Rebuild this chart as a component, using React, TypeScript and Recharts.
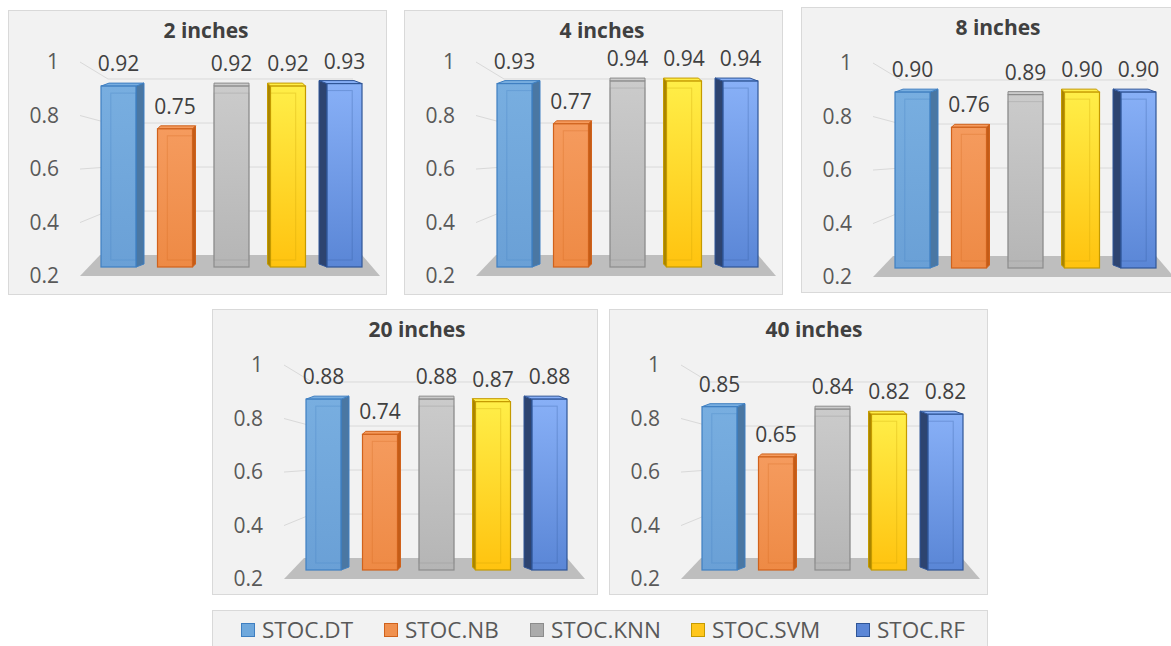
import React from "react";
import { BarChart, Bar, XAxis, YAxis, CartesianGrid, LabelList } from "recharts";

const PANEL_TITLES = ["2 inches", "4 inches", "8 inches", "20 inches", "40 inches"];

const STOC_DT = [0.92, 0.93, 0.9, 0.88, 0.85];
const STOC_NB = [0.75, 0.77, 0.76, 0.74, 0.65];
const STOC_KNN = [0.92, 0.94, 0.89, 0.88, 0.84];
const STOC_SVM = [0.92, 0.94, 0.9, 0.87, 0.82];
const STOC_RF = [0.93, 0.94, 0.9, 0.88, 0.82];

const SERIES_NAMES = ["STOC.DT", "STOC.NB", "STOC.KNN", "STOC.SVM", "STOC.RF"];
const Y_TICKS = [0.2, 0.4, 0.6, 0.8, 1];

const FONT = "'Open Sans', 'Noto Sans', sans-serif";

// look of each series (front face, edge, side face, side depth)
const STYLES = [
  { id: "dt", top: "#78AEE0", bottom: "#6AA0D6", stroke: "#3F7FC1", side: "#4A77A3", depth: 8, legend: "#6FA8DC" },
  { id: "nb", top: "#F59B5E", bottom: "#EE8A45", stroke: "#D0621C", side: "#C35C18", depth: 3, legend: "#F0914F" },
  { id: "knn", top: "#CBCBCB", bottom: "#B5B5B5", stroke: "#8C8C8C", side: "#999999", depth: 0, legend: "#ABABAB" },
  { id: "svm", top: "#FFEE48", bottom: "#FFC30F", stroke: "#C49A00", side: "#A98400", depth: -3, legend: "#FFC61A" },
  { id: "rf", top: "#88B0F7", bottom: "#5A86D6", stroke: "#2F5597", side: "#2D4470", depth: -8, legend: "#5B86D6" },
];

// panel boxes on the page
const LAYOUT = [
  { left: 8, top: 10, width: 379, height: 285, plotTop: 56, plotRight: 375, titleX: 198 },
  { left: 404, top: 10, width: 379, height: 285, plotTop: 56, plotRight: 375, titleX: 198 },
  { left: 801, top: 7, width: 379, height: 286, plotTop: 60, plotRight: 376, titleX: 197 },
  { left: 212, top: 309, width: 386, height: 286, plotTop: 60, plotRight: 376, titleX: 205 },
  { left: 609, top: 309, width: 379, height: 286, plotTop: 60, plotRight: 374, titleX: 205 },
];
const PLOT_H = 201;
const LEGEND_X = [241, 384, 530, 691, 856];

const renderBar = (st: any) => (p: any) => {
  const { x, y, width: w, height: h } = p;
  const d = st.depth;
  const r = 3;
  const sx = d > 0 ? x + w : x;
  const inner = d > 0 ? { x: x + w * 0.28, w: w * 0.72 } : d < 0 ? { x: x, w: w * 0.72 } : { x: x, w: w };
  return (
    <g>
      {d !== 0 && (
        <polygon
          points={`${sx},${y} ${sx + d},${y - r} ${sx + d},${y + h - r} ${sx},${y + h}`}
          fill={st.side}
          stroke={st.stroke}
          strokeWidth={1}
        />
      )}
      <polygon
        points={`${x},${y} ${x + d},${y - r} ${x + w + d},${y - r} ${x + w},${y}`}
        fill={st.top}
        stroke={st.stroke}
        strokeWidth={1}
      />
      <rect x={x} y={y} width={w} height={h} fill={`url(#grad-${st.id})`} stroke={st.stroke} strokeWidth={1.2} />
      <rect
        x={inner.x}
        y={y + 7}
        width={inner.w}
        height={Math.max(h - 14, 0)}
        fill="none"
        stroke={st.stroke}
        strokeOpacity={0.3}
        strokeWidth={1}
      />
    </g>
  );
};

const gridLine = (top: number, bottom: number) => (p: any) => {
  const { x1, x2, y1 } = p;
  const ph = bottom - top;
  const frac = (y1 - top) / ph;
  const yLab = top + frac * ph * 1.065 - 4;
  const yBack = top + frac * ph * 0.876 + 13;
  if (Math.abs(y1 - bottom) < 1) {
    return (
      <polygon
        key={"floor"}
        points={`${x1 + 20},${yBack} ${x2 - 21},${yBack} ${x2 - 3},${yLab} ${x1},${yLab}`}
        fill="#BEBEBE"
      />
    );
  }
  return (
    <path
      key={"g" + y1}
      d={`M${x1},${yLab}L${x1 + 28},${yBack}L${x2 - 30},${yBack}`}
      stroke="#D9D9D9"
      strokeWidth={1}
      fill="none"
    />
  );
};

const tickLabel = (top: number, bottom: number) => (p: any) => {
  const { x, y, payload } = p;
  const ph = bottom - top;
  const frac = (y - top) / ph;
  const yy = top + frac * ph * 1.065 - 4;
  return (
    <text x={x} y={yy} dy="0.35em" textAnchor="end" fill="#595959" fontSize={21} fontFamily={FONT}>
      {String(payload.value)}
    </text>
  );
};

function Panel({ index }: { index: number }) {
  const box = LAYOUT[index];
  const top = box.plotTop;
  const bottom = box.plotTop + PLOT_H;
  const data = [
    {
      panel: PANEL_TITLES[index],
      dt: STOC_DT[index],
      nb: STOC_NB[index],
      knn: STOC_KNN[index],
      svm: STOC_SVM[index],
      rf: STOC_RF[index],
    },
  ];
  return (
    <div
      style={{
        position: "absolute",
        left: box.left,
        top: box.top,
        width: box.width,
        height: box.height,
        boxSizing: "border-box",
        border: "1px solid #D9D9D9",
        background: "#F2F2F2",
      }}
    >
      <div style={{ position: "absolute", left: -1, top: -1 }}>
        <BarChart
          width={box.width}
          height={box.height}
          data={data}
          barGap={21.5}
          margin={{ top: top, right: box.width - box.plotRight, left: 0, bottom: box.height - bottom }}
        >
          <CartesianGrid vertical={false} horizontal={gridLine(top, bottom)} />
          <XAxis dataKey="panel" hide />
          <YAxis
            width={72}
            domain={[0.2, 1]}
            ticks={Y_TICKS}
            axisLine={false}
            tickLine={false}
            tickMargin={15}
            tick={tickLabel(top, bottom)}
          />
          {STYLES.map((st, i) => (
            <Bar
              key={st.id}
              dataKey={st.id}
              name={SERIES_NAMES[i]}
              barSize={35}
              isAnimationActive={false}
              shape={renderBar(st)}
            >
              <LabelList
                dataKey={st.id}
                position="top"
                offset={15}
                fill="#404040"
                fontSize={21}
                fontFamily={FONT}
                formatter={(v: any) => Number(v).toFixed(2)}
              />
            </Bar>
          ))}
        </BarChart>
      </div>
      <div
        style={{
          position: "absolute",
          left: -1,
          top: 9,
          width: box.titleX * 2,
          textAlign: "center",
          fontFamily: FONT,
          fontWeight: 700,
          fontSize: 21,
          lineHeight: "21px",
          color: "#404040",
        }}
      >
        {PANEL_TITLES[index]}
      </div>
    </div>
  );
}

export default function App() {
  return (
    <div
      style={{
        position: "absolute",
        left: 0,
        top: 0,
        width: 1171,
        height: 646,
        overflow: "hidden",
        background: "#FFFFFF",
        fontFamily: FONT,
      }}
    >
      <svg width={0} height={0} style={{ position: "absolute" }}>
        <defs>
          {STYLES.map((st) => (
            <linearGradient key={st.id} id={`grad-${st.id}`} x1="0" y1="0" x2="0" y2="1">
              <stop offset="0%" stopColor={st.top} />
              <stop offset="100%" stopColor={st.bottom} />
            </linearGradient>
          ))}
        </defs>
      </svg>
      {PANEL_TITLES.map((t, i) => (
        <Panel key={t} index={i} />
      ))}
      <div
        style={{
          position: "absolute",
          left: 212,
          top: 610,
          width: 776,
          height: 36,
          boxSizing: "border-box",
          borderTop: "1px solid #D9D9D9",
          borderLeft: "1px solid #D9D9D9",
          borderRight: "1px solid #D9D9D9",
          background: "#F2F2F2",
        }}
      >
        {SERIES_NAMES.map((name, i) => (
          <div
            key={name}
            style={{
              position: "absolute",
              left: LEGEND_X[i] - 213,
              top: 9,
              height: 20,
              display: "flex",
              alignItems: "center",
              whiteSpace: "nowrap",
            }}
          >
            <span
              style={{
                display: "inline-block",
                width: 14,
                height: 14,
                boxSizing: "border-box",
                background: STYLES[i].legend,
                border: `1.5px solid ${STYLES[i].stroke}`,
                marginRight: 7,
              }}
            />
            <span style={{ fontSize: 22.5, lineHeight: "20px", color: "#595959" }}>{name}</span>
          </div>
        ))}
      </div>
    </div>
  );
}
